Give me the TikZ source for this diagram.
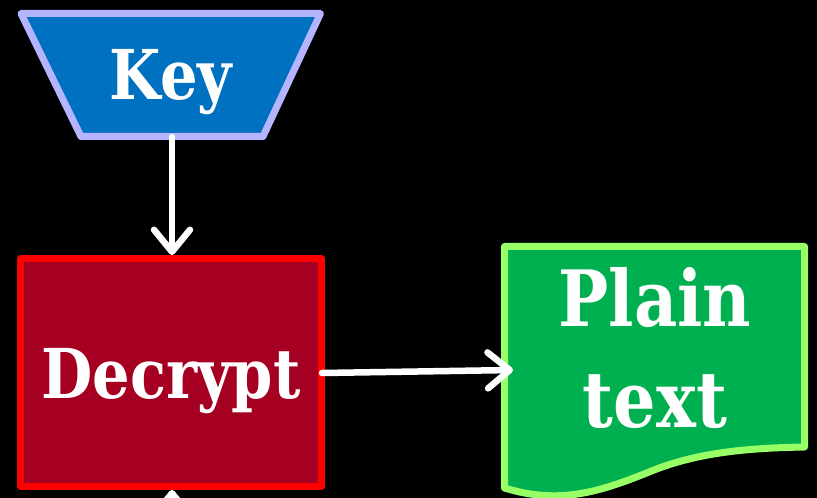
\documentclass[tikz,border=0pt]{standalone}
\usepackage{fontspec}
\newfontfamily\lblfont{DejaVu Serif}[FakeStretch=0.86]
\usetikzlibrary{arrows.meta}
\definecolor{keyfill}{HTML}{0070C0}
\definecolor{keyline}{HTML}{B4B4FF}
\definecolor{decfill}{HTML}{A50021}
\definecolor{decline}{HTML}{FF0000}
\definecolor{ptfill}{HTML}{00B050}
\definecolor{ptline}{HTML}{99FF66}
\tikzset{
  shapeline/.style={line width=7bp, line join=round},
  lbl/.style={text=white, inner sep=0pt},
  conn/.style={draw=white, line width=6.5bp, line cap=round, line join=round,
    -{Straight Barb[length=22bp,width=36bp,round]}}
}
\begin{document}
\begin{tikzpicture}[x=1bp,y=-1bp]
\fill[black] (0,0) rectangle (817,498);
\useasboundingbox (0,0) rectangle (817,498);
\clip (0,0) rectangle (817,498);
% Key
\filldraw[shapeline, fill=keyfill, draw=keyline]
  (21,13.5) -- (320.5,13.5) -- (263,136.5) -- (81,136.5) -- cycle;
\node[lbl, anchor=base, font=\lblfont\bfseries\fontsize{69}{76}\selectfont] (key) at (171,100) {Key};
\coordinate (keyS) at (172,137);
% Decrypt
\filldraw[shapeline, fill=decfill, draw=decline]
  (20.5,258.5) rectangle (321.5,486.5);
\node[lbl, anchor=base, font=\lblfont\bfseries\fontsize{69}{76}\selectfont] (dec) at (171,398) {Decrypt};
\coordinate (decN) at (172,255);
\coordinate (decS) at (172,490);
\coordinate (decE) at (322,373);
\coordinate (below) at (172,560);
% Plain text
\filldraw[shapeline, fill=ptfill, draw=ptline]
  (504.5,246.5) -- (804.5,246.5) -- (804.5,447)
  .. controls (750,448) and (700,452) .. (654,470)
  .. controls (600,492) and (560,505) .. (504.5,488) -- cycle;
\node[lbl, align=center, font=\lblfont\bfseries\fontsize{78}{102}\selectfont] (pt) at (655,348) {Plain\\text};
\coordinate (ptW) at (513,370);
% connectors
\draw[conn] (keyS) -- (decN);
\draw[conn] (below) -- (decS);
\draw[conn] (decE) -- (ptW);
\end{tikzpicture}
\end{document}
